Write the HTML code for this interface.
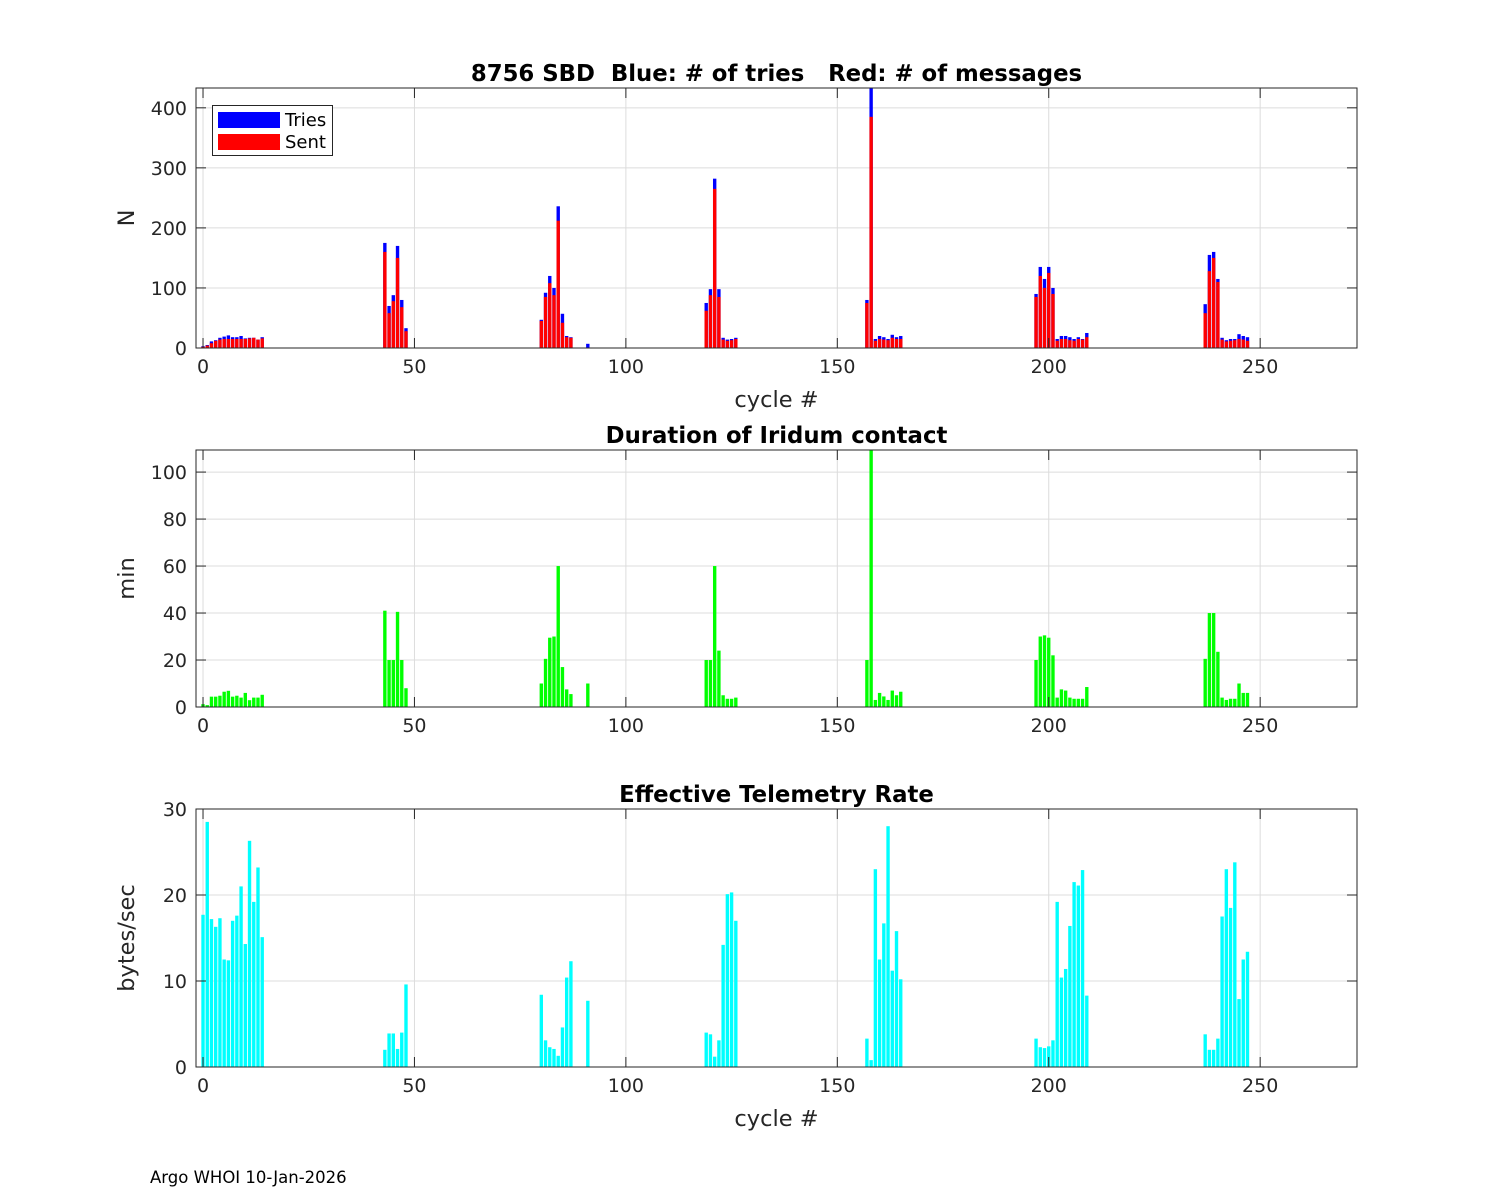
<!DOCTYPE html>
<html><head><meta charset="utf-8"><style>
html,body{margin:0;padding:0;background:#fff;}
svg{display:block;font-family:"DejaVu Sans","Liberation Sans",sans-serif;}
text{white-space:pre;}
</style></head><body>
<svg id="chart" width="1500" height="1200" xmlns="http://www.w3.org/2000/svg" xml:space="preserve">
<rect width="1500" height="1200" fill="#fff"/>
</svg>
<script>
// cycles with data
const cycles = [0,1,2,3,4,5,6,7,8,9,10,11,12,13,14,
 43,44,45,46,47,48,
 80,81,82,83,84,85,86,87,91,
 119,120,121,122,123,124,125,126,
 157,158,159,160,161,162,163,164,165,
 197,198,199,200,201,202,203,204,205,206,207,208,209,
 237,238,239,240,241,242,243,244,245,246,247];
const tries = [3,5,11,13,17,19,21,18,18,20,16,17,17,14,18,
 175,70,88,170,80,33,
 47,92,120,100,236,57,20,18,7,
 75,98,282,98,17,14,15,17,
 80,433,15,20,18,15,22,18,20,
 90,135,115,135,100,15,20,20,18,15,18,15,25,
 73,155,160,115,17,13,15,15,23,20,18];
const sent = [2,4,8,12,14,15,15,15,15,15,15,16,17,14,16,
 160,58,78,150,68,28,
 45,85,108,88,212,42,18,17,0,
 62,88,265,85,14,12,13,15,
 75,385,12,15,14,13,17,15,15,
 85,120,100,125,90,12,15,15,13,12,15,14,18,
 58,128,150,110,14,11,12,13,15,14,12];
const duration = [1.2,0.8,4.4,4.4,4.8,6.5,6.9,4.4,4.8,4,6,2.9,4,4,5.2,
 41,20,20,40.5,20,8,
 10,20.5,29.5,30,60,17,7.5,5.5,10,
 20,20,60,24,5,3.5,3.5,4,
 20,110,3,6,4.5,3,7,5,6.5,
 20,30,30.5,29.5,22,4,7.5,7,4,3.5,3.5,3.5,8.5,
 20.5,40,40,23.5,4,3,3.5,3.5,10,6,6];
const rate = [17.7,28.5,17.2,16.3,17.3,12.5,12.4,17,17.6,21,14.3,26.3,19.2,23.2,15.1,
 2,3.9,3.9,2.1,4,9.6,
 8.4,3.1,2.3,2.1,1.3,4.6,10.4,12.3,7.7,
 4,3.8,1.2,3.1,14.2,20.1,20.3,17,
 3.3,0.8,23,12.5,16.7,28,11.2,15.8,10.2,
 3.3,2.3,2.2,2.4,3.1,19.2,10.4,11.4,16.4,21.5,21.1,22.9,8.3,
 3.8,2,2,3.3,17.5,23,18.5,23.8,7.9,12.5,13.4];
const xTicks = [0,50,100,150,200,250];
const y1Ticks = [0,100,200,300,400];
const y2Ticks = [0,20,40,60,80,100];
const y3Ticks = [0,10,20,30];

const NS = "http://www.w3.org/2000/svg";
const svg = document.getElementById('chart');
const L = 196, R = 1357, XMIN = -1.66, XMAX = 272.9;
function xs(v){ return L + (v - XMIN) / (XMAX - XMIN) * (R - L); }
function mk(tag, attrs, parent){
  const e = document.createElementNS(NS, tag);
  for (const k in attrs) e.setAttribute(k, attrs[k]);
  (parent || svg).appendChild(e);
  return e;
}
function txt(s, attrs){ const t = mk('text', attrs); t.textContent = s; return t; }

const panels = [
  {key:'sbd', top:88, bot:348, ymax:433, ticks:y1Ticks, title:'8756 SBD  Blue: # of tries   Red: # of messages', ylabel:'N', xlabel:true},
  {key:'duration', top:450, bot:707, ymax:109.4, ticks:y2Ticks, title:'Duration of Iridum contact', ylabel:'min', xlabel:false},
  {key:'rate', top:809, bot:1067, ymax:30, ticks:y3Ticks, title:'Effective Telemetry Rate', ylabel:'bytes/sec', xlabel:true}
];

panels.forEach(p => {
  const g = mk('g', {});
  
  
  const ys = v => p.bot - v / p.ymax * (p.bot - p.top);
  mk('rect', {x:L, y:p.top, width:R-L, height:p.bot-p.top, fill:'#fff'}, g);
  xTicks.forEach(t => {
    const l = mk('line', {x1:xs(t), x2:xs(t), y1:p.top, y2:p.bot, stroke:'#dcdcdc', 'stroke-width':1}, g);
    
    
  });
  p.ticks.forEach(t => {
    const l = mk('line', {x1:L, x2:R, y1:ys(t), y2:ys(t), stroke:'#dcdcdc', 'stroke-width':1}, g);
    
    
  });
  const bw = 0.8;
  cycles.forEach((c, i) => {
    const x0 = xs(c - bw/2), w = xs(c + bw/2) - x0;
    if (p.key === 'sbd') {
      const bt = mk('rect', {x:x0, y:ys(tries[i]), width:w, height:p.bot-ys(tries[i]), fill:'#0000ff'}, g);
      
      
      if (sent[i] > 0) {
        const bs = mk('rect', {x:x0, y:ys(sent[i]), width:w, height:p.bot-ys(sent[i]), fill:'#ff0000'}, g);
        
        
      }
    } else {
      const v = p.key === 'duration' ? duration[i] : rate[i];
      const vv = Math.min(v, p.ymax);
      const b = mk('rect', {x:x0, y:ys(vv), width:w, height:p.bot-ys(vv), fill: p.key === 'duration' ? '#00ff00' : '#00ffff'}, g);
      
      
    }
  });
  mk('rect', {x:L, y:p.top, width:R-L, height:p.bot-p.top, fill:'none', stroke:'#262626', 'stroke-width':1}, g);
  xTicks.forEach(t => {
    mk('line', {x1:xs(t), x2:xs(t), y1:p.bot, y2:p.bot-10, stroke:'#262626'}, g);
    mk('line', {x1:xs(t), x2:xs(t), y1:p.top, y2:p.top+10, stroke:'#262626'}, g);
    const tl = txt(String(t), {x:xs(t), y:p.bot+25, 'text-anchor':'middle', 'font-size':19, fill:'#262626'});
    
    
  });
  p.ticks.forEach(t => {
    mk('line', {x1:L, x2:L+10, y1:ys(t), y2:ys(t), stroke:'#262626'}, g);
    mk('line', {x1:R, x2:R-10, y1:ys(t), y2:ys(t), stroke:'#262626'}, g);
    const tl = txt(String(t), {x:L-9, y:ys(t)+7, 'text-anchor':'end', 'font-size':19, fill:'#262626'});
    
    
  });
  const ti = txt(p.title, {x:(L+R)/2, y:p.top-7, 'text-anchor':'middle', 'font-size':22.8, 'font-weight':'bold', fill:'#000'});
  
  
  const yc = (p.top + p.bot) / 2;
  const yl = txt(p.ylabel, {x:0, y:0, 'text-anchor':'middle', 'font-size':22.5, fill:'#262626', transform:`translate(${L-62},${yc}) rotate(-90)`});
  
  
  if (p.xlabel) {
    const xl = txt('cycle #', {x:(L+R)/2, y:p.bot+59, 'text-anchor':'middle', 'font-size':22.5, fill:'#262626'});
    
    
  }
});

const lg = mk('g', {});


mk('rect', {x:212.5, y:105.5, width:120, height:50, fill:'#fff', stroke:'#262626'}, lg);
mk('rect', {x:218, y:112, width:62, height:16, fill:'#0000ff'}, lg);
mk('rect', {x:218, y:134, width:62, height:16, fill:'#ff0000'}, lg);
const l1 = txt('Tries', {x:285, y:126, 'font-size':18, fill:'#000'});


const l2 = txt('Sent', {x:285, y:148, 'font-size':18, fill:'#000'});



const foot = txt('Argo WHOI 10-Jan-2026', {x:150, y:1183, 'font-size':16.5, fill:'#000'});


</script>
</body></html>
